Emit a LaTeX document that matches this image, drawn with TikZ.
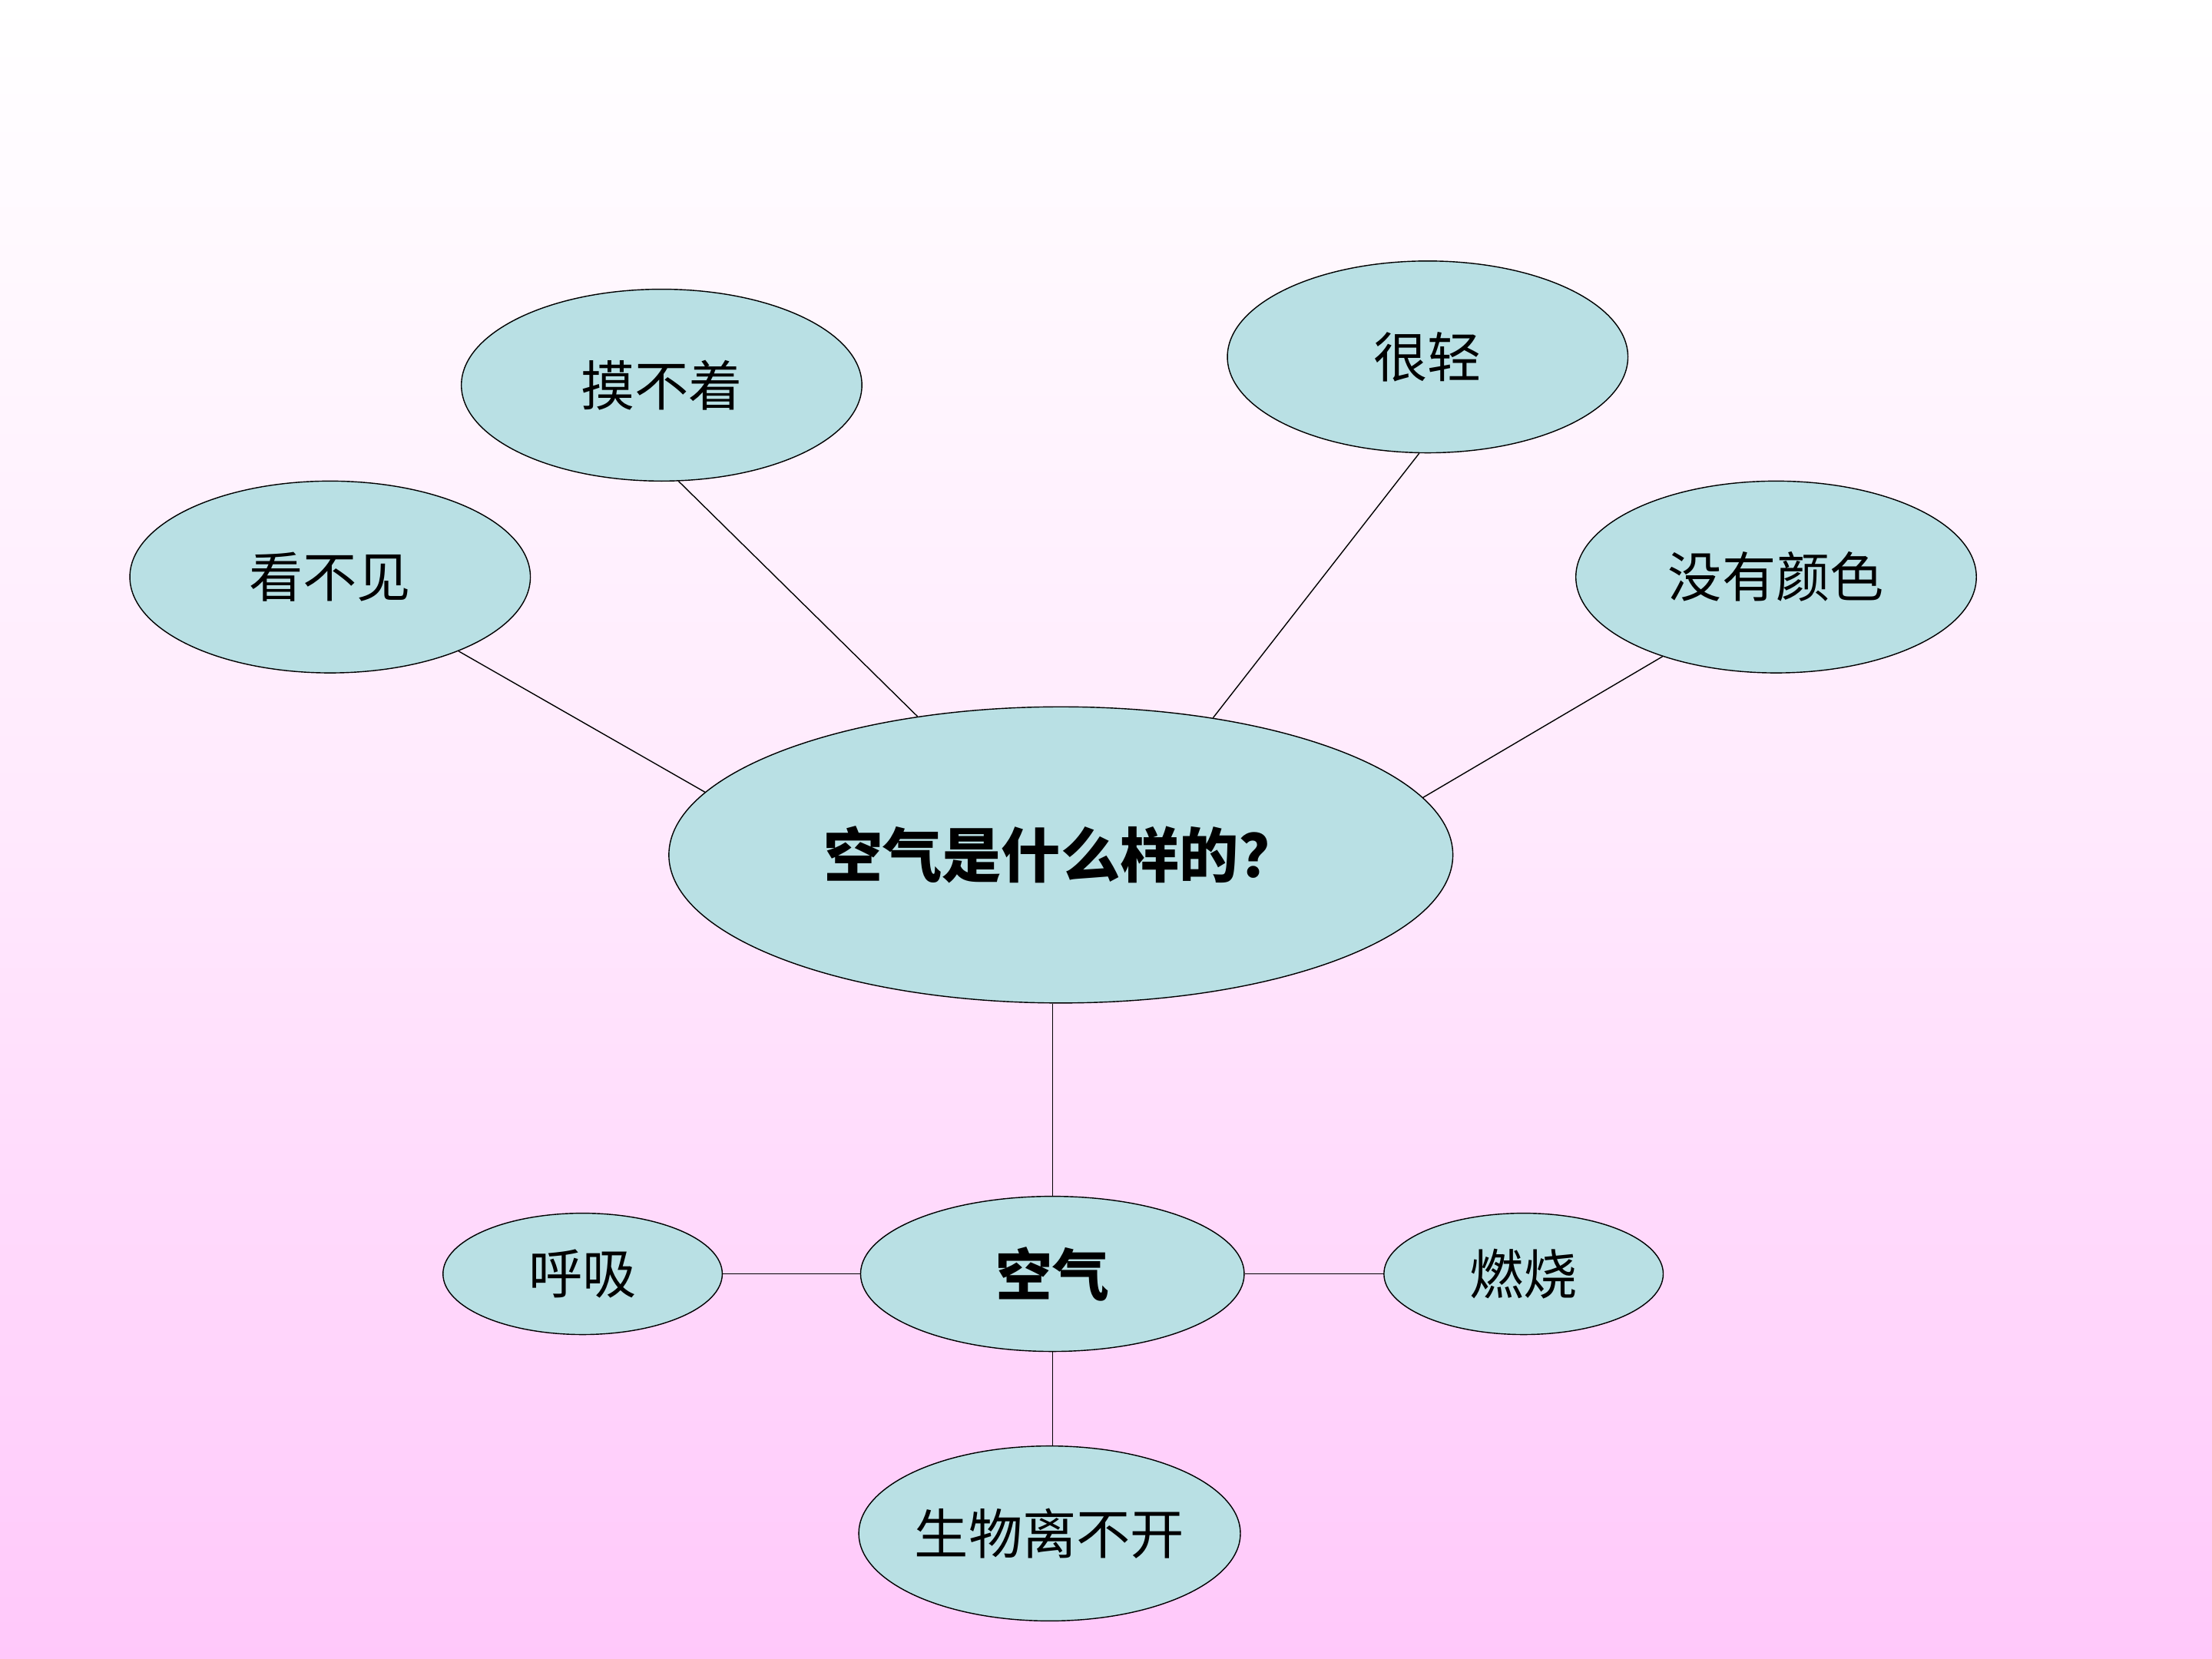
\documentclass[tikz,border=0pt]{standalone}
\usepackage{fontspec}
\newfontfamily\cjk{Noto Sans CJK SC}
\usetikzlibrary{shapes.geometric}
\definecolor{bubble}{RGB}{185,224,228}
\definecolor{pinkbg}{RGB}{255,200,250}
\tikzset{
  bubble/.style={draw, ellipse, fill=bubble, inner sep=0pt, font=\cjk\fontsize{20}{24}\selectfont},
  bigbubble/.style={bubble, minimum width=5.216cm, minimum height=2.498cm},
  link/.style={draw, thin}
}
\begin{document}
\begin{tikzpicture}[x=0.018367cm, y=-0.018367cm]
  % background
  \shade[top color=white, bottom color=pinkbg, middle color=pinkbg!40] (0,0) rectangle (1568,1176);
  \useasboundingbox (0,0) rectangle (1568,1176);

  % centre question
  \node (Q)[bubble, minimum width=10.21cm, minimum height=3.857cm,
            font=\cjk\bfseries\fontsize{22}{26}\selectfont] at (752,606) {空气是什么样的？};

  % properties
  \node (see)[bigbubble] at (234,409)  {看不见};
  \node (touch)[bigbubble] at (469,273) {摸不着};
  \node (light)[bigbubble] at (1012,253) {很轻};
  \node (color)[bigbubble] at (1259,409) {没有颜色};

  \draw[link] (see.-30.6) -- (Q.170);
  \draw[link] (touch.-80) -- (Q.136.7);
  \draw[link] (light.-95) -- (Q.42.5);
  \draw[link] (color.-145) -- (Q.9.8);

  % uses of air
  \node (air)[bubble, minimum width=4.996cm, minimum height=2.02cm,
              font=\cjk\bfseries\fontsize{21}{25}\selectfont] at (746,903) {空气};
  \node (breath)[bubble, minimum width=3.637cm, minimum height=1.58cm] at (413,903) {呼吸};
  \node (burn)[bubble, minimum width=3.637cm, minimum height=1.58cm] at (1080,903) {燃烧};
  \node (life)[bubble, minimum width=4.518cm, minimum height=2.278cm] at (744,1087) {生物离不开};

  \draw[link] (air.north) -- (air.north |- Q.south);
  \draw[link] (breath.east) -- (air.west);
  \draw[link] (air.east) -- (burn.west);
  \draw[link] (air.south) -- (air.south |- life.north);
\end{tikzpicture}
\end{document}
